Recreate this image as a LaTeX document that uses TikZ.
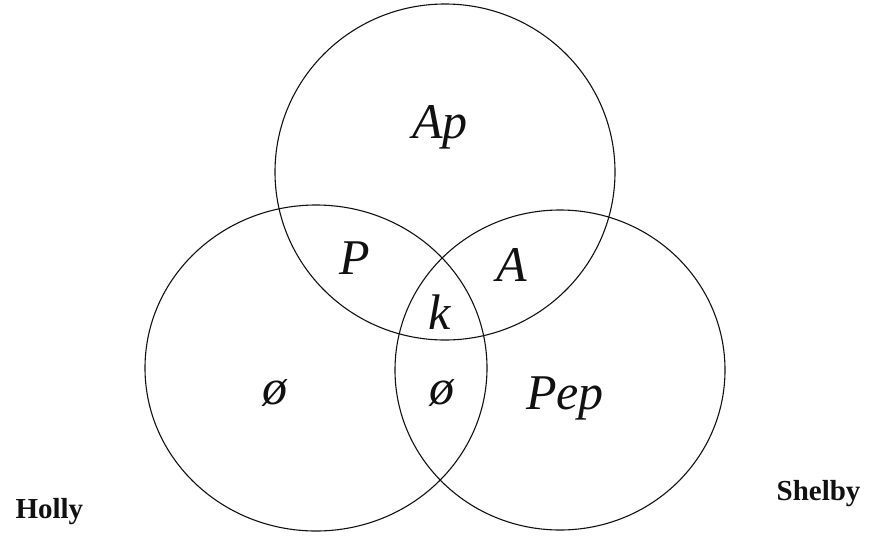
\documentclass[tikz,border=0pt]{standalone}
\usepackage{fontspec}
\setmainfont{Liberation Serif}
\usepackage{tikz}
\usetikzlibrary{positioning,shapes.geometric}
\definecolor{cInk}{HTML}{111111}

\tikzset{
  setring/.style={ellipse,draw=cInk,line width=1.1pt,inner sep=0pt},
  hand/.style={text=cInk,font=\fontsize{50}{54}\selectfont\itshape},
  owner/.style={text=cInk,font=\fontsize{29}{31}\selectfont\bfseries}
}

\begin{document}
\begin{tikzpicture}[x=1pt,y=-1pt]
    \useasboundingbox (0,0) rectangle (873,536);

    % --- the three sets ----------------------------------------------
    \node[setring,minimum width=340pt,minimum height=336pt] (top)    at (445,172) {};
    \node[setring,minimum width=342pt,minimum height=326pt] (holly)  at (316,368) {};
    \node[setring,minimum width=330pt,minimum height=320pt] (shelby) at (560,370) {};

    % --- region labels -----------------------------------------------
    \node[hand] (ap)  at (440,127) {Ap};
    \node[hand] (p)   at (355,258) {P};
    \node[hand] (a)   at (512,265) {A};
    \node[hand] (k)   at (440,312) {k};
    \node[hand] (e1)  at (275,393) {ø};
    \node[hand] (e2)  at (442,393) {ø};
    \node[hand] (pep) at (565,398) {Pep};

    % --- names -------------------------------------------------------
    \node[owner,anchor=base west] (hname) at (12,518) {Holly};
    \node[owner,anchor=base east] (sname) at (864,500) {Shelby};
  \end{tikzpicture}
\end{document}
